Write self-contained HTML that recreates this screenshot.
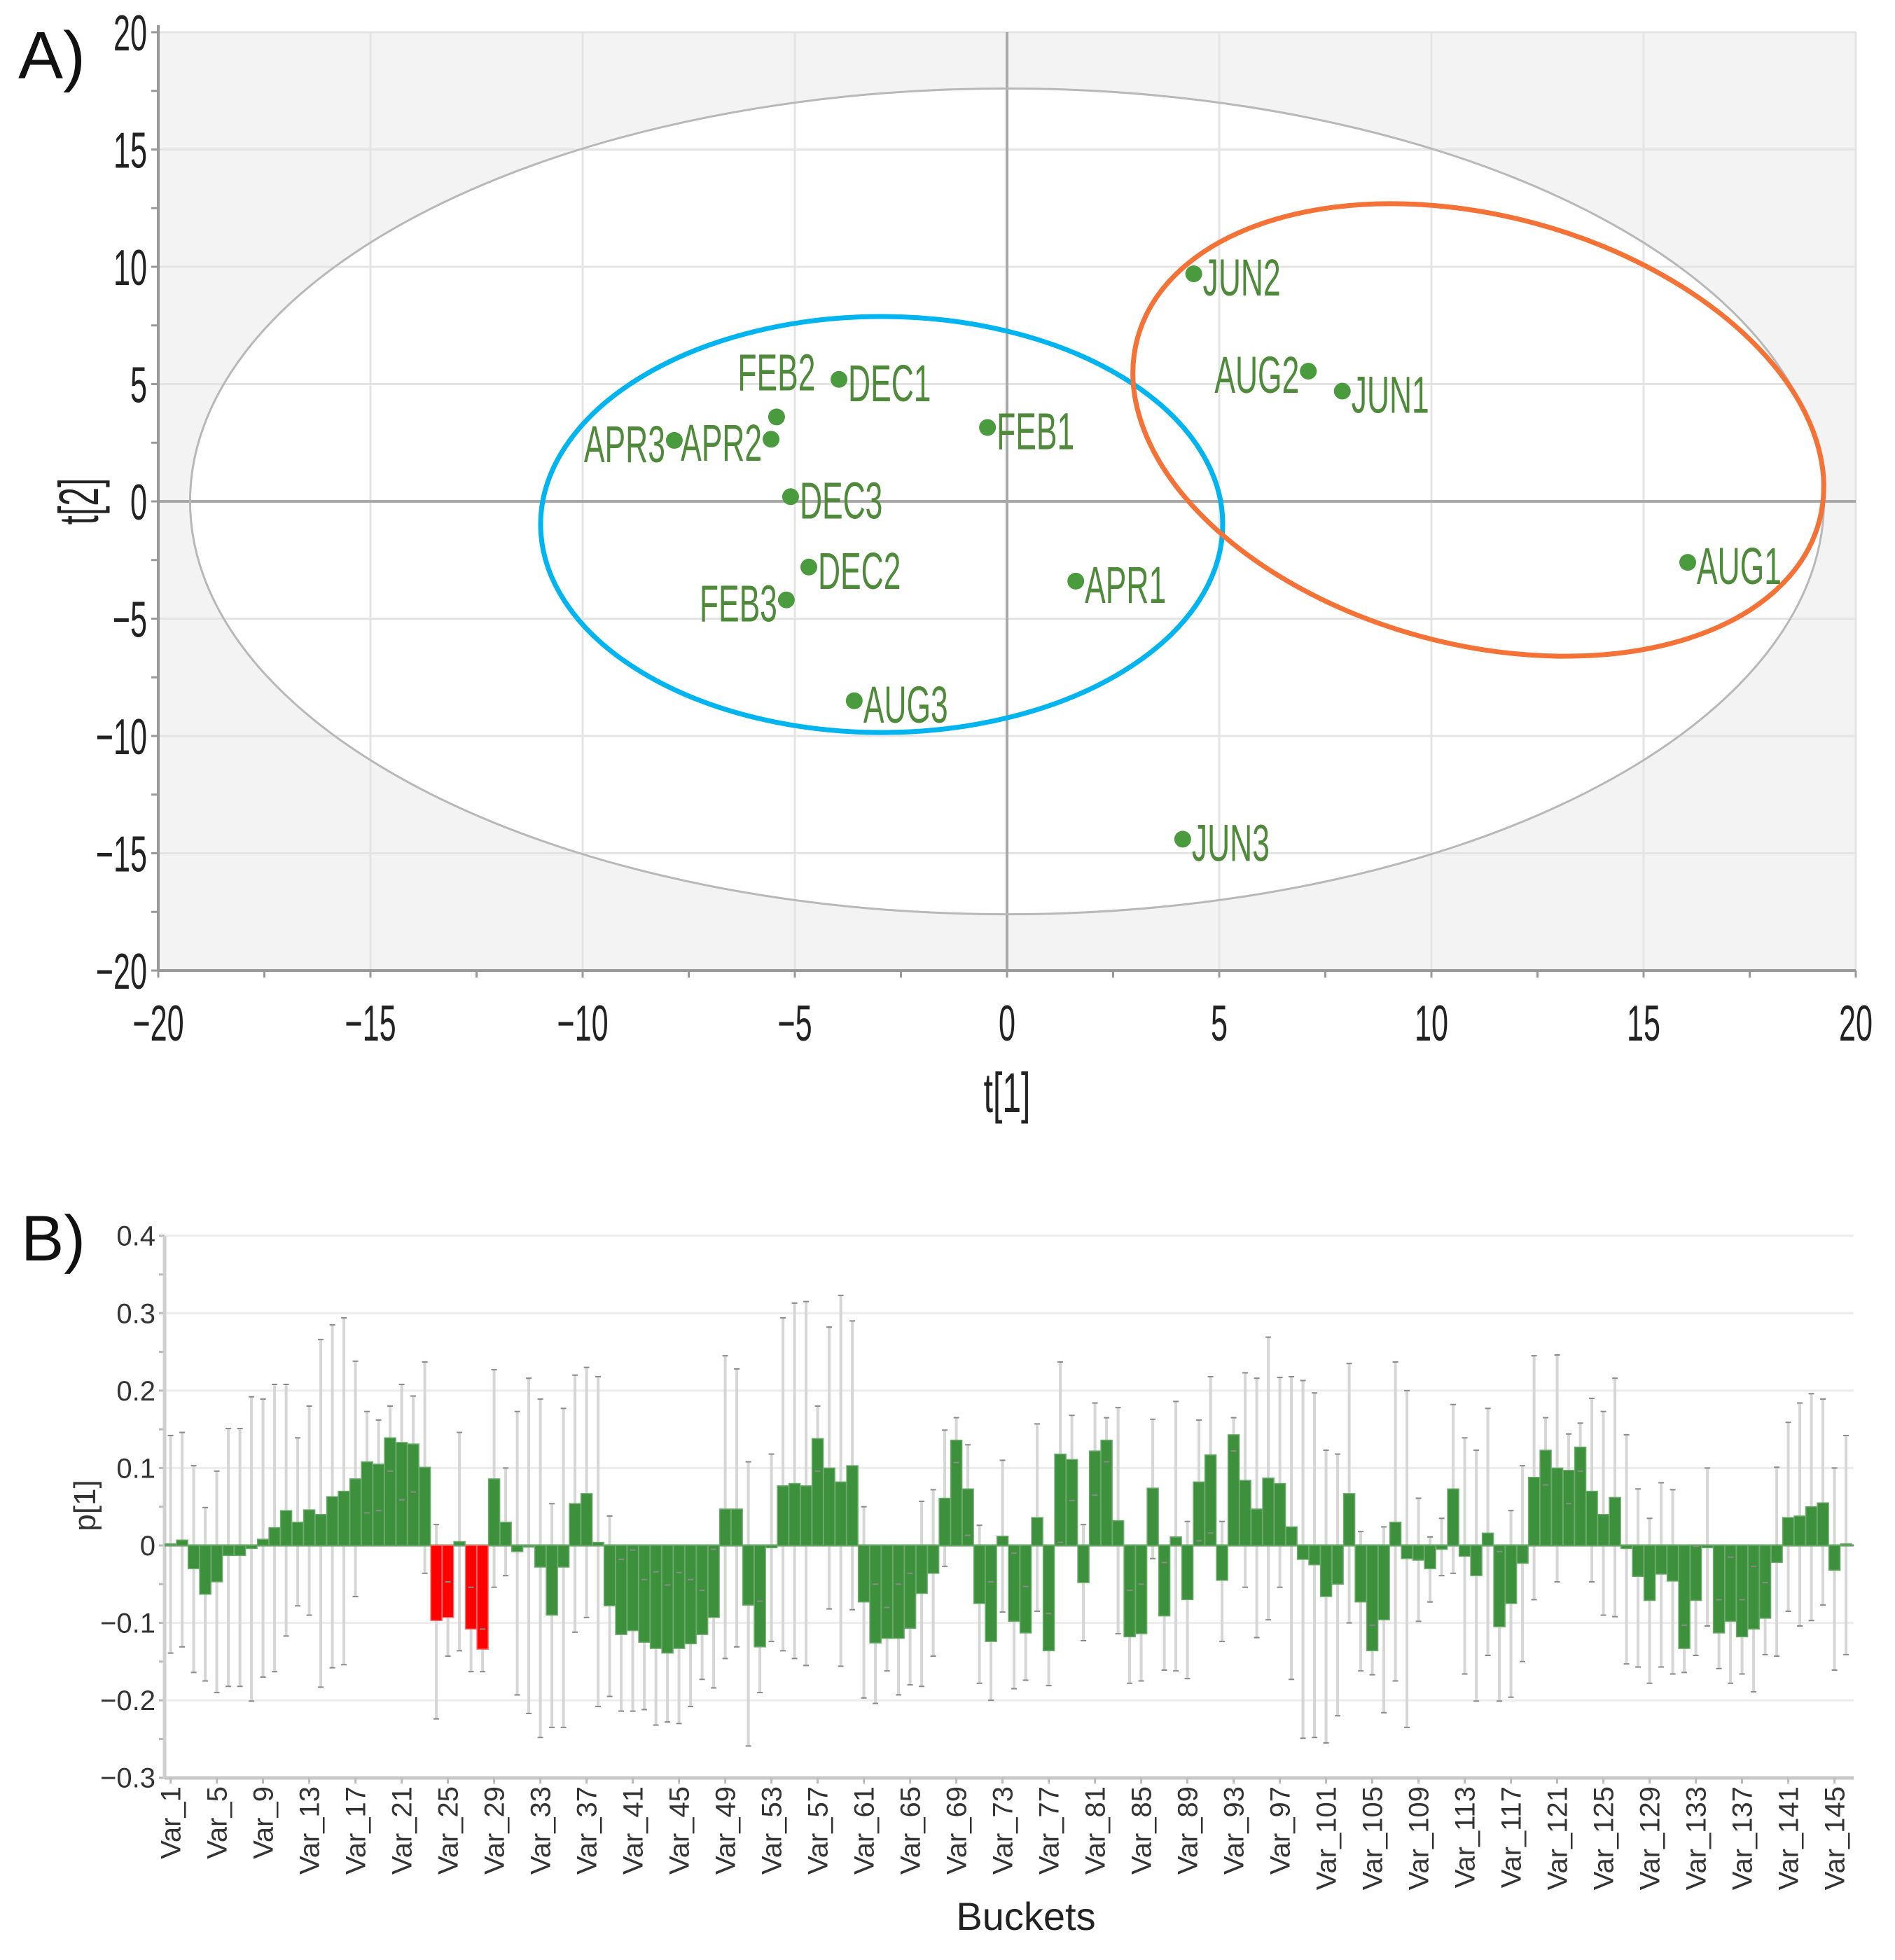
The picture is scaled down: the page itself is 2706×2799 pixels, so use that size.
<!DOCTYPE html>
<html><head><meta charset="utf-8"><title>PCA scores and loadings</title>
<style>
html,body{margin:0;padding:0;background:#fff;}
svg{display:block;}
text{font-family:"Liberation Sans",sans-serif;}
</style></head>
<body>
<svg id="fig" xmlns="http://www.w3.org/2000/svg" width="2706" height="2799" viewBox="0 0 2706 2799">
<rect x="0" y="0" width="2706" height="2799" fill="#fff"/>
<g id="panelA"></g>
<g id="panelB"></g>
</svg>
<script>
// ---------- Panel A data ----------
const sampleNames = ["JUN2","AUG2","JUN1","FEB2","DEC1","FEB1","APR3","APR2","DEC3","DEC2","FEB3","APR1","AUG1","AUG3","JUN3"];
const t1Values = [4.4,7.1,7.9,-5.43,-3.96,-0.46,-7.84,-5.56,-5.1,-4.67,-5.2,1.62,16.04,-3.6,4.14];
const t2Values = [9.7,5.55,4.7,3.6,5.2,3.15,2.6,2.65,0.2,-2.8,-4.2,-3.4,-2.6,-8.5,-14.4];
const labelSides = ["r","l","r","t","r","r","l","l","r","r","l","r","r","r","r"];
const axisTicksA = [-20,-15,-10,-5,0,5,10,15,20];
const hotellingRadii = [19.25,17.6];

// ---------- Panel B data ----------
const loadings = [0.002,0.007,-0.03,-0.063,-0.047,-0.013,-0.013,-0.004,0.008,0.023,
0.045,0.03,0.046,0.04,0.063,0.07,0.086,0.108,0.105,0.139,
0.133,0.131,0.101,-0.097,-0.093,0.005,-0.108,-0.134,0.086,0.03,
-0.008,-0.002,-0.028,-0.09,-0.028,0.054,0.067,0.004,-0.078,-0.115,
-0.11,-0.125,-0.133,-0.139,-0.133,-0.127,-0.115,-0.093,0.047,0.047,
-0.077,-0.131,-0.003,0.077,0.08,0.077,0.138,0.1,0.082,0.103,
-0.073,-0.126,-0.12,-0.12,-0.107,-0.062,-0.036,0.061,0.136,0.073,
-0.075,-0.124,0.012,-0.098,-0.113,0.036,-0.136,0.118,0.111,-0.048,
0.122,0.136,0.032,-0.118,-0.114,0.074,-0.091,0.011,-0.07,0.082,
0.117,-0.045,0.143,0.084,0.047,0.087,0.08,0.024,-0.018,-0.025,
-0.066,-0.05,0.067,-0.073,-0.136,-0.096,0.03,-0.017,-0.019,-0.03,
-0.005,0.073,-0.014,-0.039,0.016,-0.105,-0.075,-0.023,0.088,0.123,
0.1,0.097,0.127,0.07,0.04,0.062,-0.004,-0.04,-0.071,-0.037,
-0.046,-0.133,-0.071,-0.003,-0.113,-0.098,-0.118,-0.108,-0.094,-0.022,
0.036,0.038,0.05,0.055,-0.032,0.002];
const errHigh = [.142,.146,.103,.049,.096,.151,.151,.192,.189,.208,
.208,.139,.18,.266,.285,.294,.238,.173,.162,.18,
.208,.193,.237,.027,-.047,.146,-.054,-.108,.227,.1,
.173,.216,.189,.054,.177,.22,.23,.218,.038,-.018,
-.006,-.044,-.034,-.051,-.035,-.044,-.058,-.005,.245,.228,
.108,-.072,.118,.294,.313,.315,.18,.282,.323,.29,
.05,-.05,-.08,-.05,-.036,.057,.072,.149,.165,.13,
.026,-.047,.11,-.01,-.053,.157,-.088,.237,.168,.027,
.184,.165,.178,-.058,-.05,.163,-.022,.186,.031,.162,
.218,.031,.165,.223,.216,.269,.217,.218,.213,.197,
.123,.118,.235,.018,-.103,.024,.237,.2,.061,.011,
.035,.182,.139,.123,.177,-.008,.045,.103,.245,.165,
.246,.144,.158,.19,.173,.216,.143,.073,.035,.081,
.072,-.103,-.001,.1,-.07,-.015,-.07,-.027,-.048,.101,
.159,.184,.196,.189,.1,.142];
const errLow = [-.139,-.131,-.164,-.175,-.19,-.182,-.182,-.201,-.17,-.163,
-.117,-.078,-.09,-.183,-.158,-.154,-.066,.042,.045,.096,
.059,.069,-.036,-.224,-.143,-.136,-.163,-.163,-.054,-.039,
-.193,-.217,-.248,-.235,-.235,-.112,-.093,-.208,-.195,-.214,
-.214,-.212,-.232,-.228,-.23,-.208,-.173,-.184,-.146,-.131,
-.259,-.19,-.124,-.136,-.146,-.155,.096,-.082,-.156,-.083,
-.197,-.204,-.162,-.193,-.18,-.182,-.143,-.027,.107,.013,
-.178,-.2,-.086,-.185,-.174,-.085,-.181,.004,.058,-.123,
.065,.108,-.114,-.178,-.175,-.017,-.161,-.162,-.172,.006,
.016,-.124,.122,-.054,-.119,-.096,-.054,-.173,-.249,-.248,
-.255,-.22,-.1,-.162,-.167,-.216,-.175,-.235,-.098,-.073,
-.039,-.036,-.166,-.201,-.142,-.201,-.196,-.15,-.07,.078,
-.047,.054,.096,-.047,-.09,-.092,-.153,-.157,-.178,-.157,
-.166,-.164,-.142,-.104,-.159,-.178,-.166,-.189,-.141,-.143,
-.085,-.104,-.097,-.077,-.161,-.141];
const highlightedVars = [24,25,27,28];
const yTicksB = [0.4,0.3,0.2,0.1,0,-0.1,-0.2,-0.3];

const NS = "http://www.w3.org/2000/svg";
function mk(tag, attrs, parent){
  const e = document.createElementNS(NS, tag);
  for (const k in attrs) e.setAttribute(k, attrs[k]);
  parent.appendChild(e);
  return e;
}
function fmt(v){ return (v<0?"\u2212":"") + String(Math.abs(v)); }

// ================= PANEL A =================
const A = document.getElementById("panelA");
const AL=226, AR=2650, AT=46, AB=1386;
const xA = v => AL + (v+20)*(AR-AL)/40;
const yA = v => AB - (v+20)*(AB-AT)/40;

let el;
el = mk("rect",{x:AL,y:AT,width:AR-AL,height:AB-AT,fill:"#f3f3f3"},A);


el = mk("ellipse",{cx:xA(0),cy:yA(0),rx:xA(hotellingRadii[0])-xA(0),ry:yA(0)-yA(hotellingRadii[1]),fill:"#fff",stroke:"none"},A);


axisTicksA.forEach(v=>{
  if(v!==0 && v!==-20){
    el = mk("line",{x1:xA(v),x2:xA(v),y1:AT,y2:AB,stroke:"#e4e4e4","stroke-width":3},A);
    
    
  }
  if(v!==0 && v!==-20){
    el = mk("line",{x1:AL,x2:AR,y1:yA(v),y2:yA(v),stroke:"#e4e4e4","stroke-width":3},A);
    
    
  }
});
el = mk("line",{x1:AL,x2:AR,y1:yA(0),y2:yA(0),stroke:"#a8a8a8","stroke-width":4},A);


el = mk("line",{x1:xA(0),x2:xA(0),y1:AT,y2:AB,stroke:"#a8a8a8","stroke-width":4},A);


el = mk("ellipse",{cx:xA(0),cy:yA(0),rx:xA(hotellingRadii[0])-xA(0),ry:yA(0)-yA(hotellingRadii[1]),fill:"none",stroke:"#b8b8b8","stroke-width":3},A);


// axes
el = mk("line",{x1:AL,x2:AL,y1:AT-10,y2:AB,stroke:"#999","stroke-width":4},A);


el = mk("line",{x1:AL,x2:AR,y1:AB,y2:AB,stroke:"#999","stroke-width":4},A);


for(let v=-20; v<=20; v+=2.5){
  el = mk("line",{x1:AL-10,x2:AL,y1:yA(v),y2:yA(v),stroke:"#999","stroke-width":3},A);
  
  
  el = mk("line",{x1:xA(v),x2:xA(v),y1:AB,y2:AB+10,stroke:"#999","stroke-width":3},A);
  
  
}
axisTicksA.forEach(v=>{
  el = mk("text",{transform:`translate(${AL-16},${yA(v)+26}) scale(0.6,1)`,"text-anchor":"end","font-size":72,fill:"#222"},A);
  el.textContent = fmt(v);
  
  
  el = mk("text",{transform:`translate(${xA(v)},${AB+100}) scale(0.6,1)`,"text-anchor":"middle","font-size":72,fill:"#222"},A);
  el.textContent = fmt(v);
  
  
});
el = mk("text",{transform:`translate(140,${yA(0)}) rotate(-90) scale(0.6,1)`,"text-anchor":"middle","font-size":80,fill:"#222"},A);
el.textContent = "t[2]";


el = mk("text",{transform:`translate(${xA(0)},1588) scale(0.6,1)`,"text-anchor":"middle","font-size":80,fill:"#222"},A);
el.textContent = "t[1]";


el = mk("text",{x:26,y:112,"font-size":96,fill:"#111"},A);
el.textContent = "A)";



// group ellipses
el = mk("ellipse",{cx:1259,cy:749,rx:487,ry:297,fill:"none",stroke:"#00b4f0","stroke-width":7},A);


el = mk("ellipse",{cx:0,cy:0,rx:504,ry:306,fill:"none",stroke:"#f47236","stroke-width":7,transform:"translate(2111,614) rotate(15)"},A);



// points
sampleNames.forEach((n,i)=>{
  const cx = xA(t1Values[i]), cy = yA(t2Values[i]);
  el = mk("circle",{cx:cx,cy:cy,r:12,fill:"#4a9a3e"},A);
  
  
  let tx=cx+13, ty=cy+31, anchor="start";
  if(labelSides[i]==="l"){ tx=cx-13; anchor="end"; }
  if(labelSides[i]==="t"){ tx=cx; ty=cy-38; anchor="middle"; }
  el = mk("text",{transform:`translate(${tx},${ty}) scale(0.6,1)`,"text-anchor":anchor,"font-size":74,fill:"#4e8a3a"},A);
  el.textContent = n;
  
  
});

// ================= PANEL B =================
const B = document.getElementById("panelB");
const BL=235, BR=2647, BT=1765, BB=2539, B0=2207;
const yB = v => B0 - v*(BB-BT)/0.7;
const xB = i => 243.6 + i*16.5;

yTicksB.forEach(v=>{
  if(v!==0){
    el = mk("line",{x1:BL,x2:BR,y1:yB(v),y2:yB(v),stroke:"#ececec","stroke-width":3},B);
    
    
  }
  el = mk("text",{x:222,y:yB(v)+14,"text-anchor":"end","font-size":40,fill:"#333"},B);
  el.textContent = fmt(v);
  
  
});
for(let v=-0.3; v<=0.401; v+=0.05){
  el = mk("line",{x1:BL-8,x2:BL,y1:yB(v),y2:yB(v),stroke:"#bbb","stroke-width":3},B);
  
  
}
el = mk("line",{x1:BL,x2:BL,y1:BT,y2:BB,stroke:"#d0d0d0","stroke-width":5},B);


el = mk("line",{x1:BL,x2:BR,y1:BB,y2:BB,stroke:"#c8c8c8","stroke-width":5},B);



// error bars (behind)
loadings.forEach((v,i)=>{
  el = mk("line",{x1:xB(i),x2:xB(i),y1:yB(errHigh[i]),y2:yB(errLow[i]),stroke:"#d6d6d6","stroke-width":4},B);
  
  
});
// bars
el = mk("line",{x1:BL,x2:BR,y1:B0,y2:B0,stroke:"#5a9a5a","stroke-width":3},B);


loadings.forEach((v,i)=>{
  const red = highlightedVars.indexOf(i+1)>=0;
  const y1 = Math.min(yB(v),B0), h = Math.max(Math.abs(yB(v)-B0),1.5);
  el = mk("rect",{x:xB(i)-8,y:y1,width:16,height:h,fill:red?"#ff0000":"#3d913d",stroke:red?"#ff6a6a":"#6aab6a","stroke-width":1.5},B);
  
  
});
// caps
loadings.forEach((v,i)=>{
  [errHigh[i],errLow[i]].forEach(e=>{
    el = mk("line",{x1:xB(i)-4,x2:xB(i)+4,y1:yB(e),y2:yB(e),stroke:"#8a8a8a","stroke-width":2},B);
    
    
  });
});
// x tick labels
for(let i=0;i<loadings.length;i+=4){
  el = mk("line",{x1:xB(i),x2:xB(i),y1:BB,y2:BB+8,stroke:"#bbb","stroke-width":3},B);
  
  
  el = mk("text",{transform:`translate(${xB(i)+14},${BB+12}) rotate(-90)`,"text-anchor":"end","font-size":40,fill:"#333"},B);
  el.textContent = "Var_"+(i+1);
  
  
}
el = mk("text",{transform:`translate(136,2150) rotate(-90)`,"text-anchor":"middle","font-size":44,fill:"#333"},B);
el.textContent = "p[1]";


el = mk("text",{x:1465,y:2756,"text-anchor":"middle","font-size":56,fill:"#222"},B);
el.textContent = "Buckets";


el = mk("text",{x:30,y:1800,"font-size":92,fill:"#111"},B);
el.textContent = "B)";


</script>
</body></html>
